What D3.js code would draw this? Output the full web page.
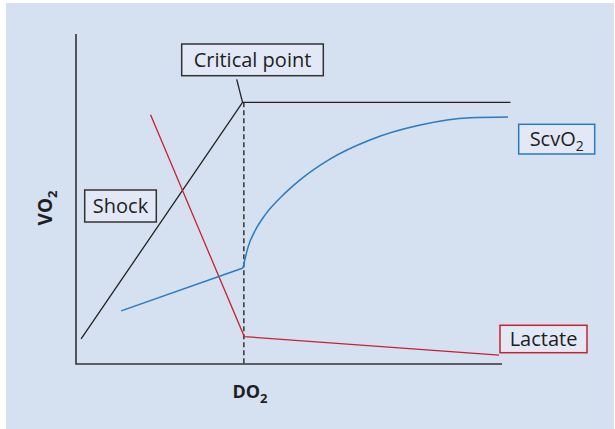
<!DOCTYPE html>
<html>
<head>
<meta charset="utf-8">
<script src="https://cdn.jsdelivr.net/npm/d3@7"></script>
<style>
  html, body { margin: 0; padding: 0; background: #fff; }
  svg { display: block; }
  text { font-family: "Open Sans", "Noto Sans", sans-serif; fill: #1e1e1e; }
</style>
</head>
<body>
<div class="container"></div>
<script>
// VO2 (black), lactate (red) and ScvO2 (blue) against DO2, in arbitrary units 0..100
const vo2Points = [[1.2, 7.6], [39.1, 79.3], [102, 79.3]];
const lactatePoints = [[17.5, 75.5], [39.5, 8.3], [99.3, 2.7]];
const scvo2Linear = [[10.6, 16.1], [39.2, 29.1]];
const scvo2Curve = [[39.2, 29.1], [40.4, 35.5], [42.0, 40.3], [44.4, 45.2], [47.9, 50.3],
                    [52.6, 55.8], [59.6, 62.1], [69.0, 67.9], [80.8, 72.4], [92.5, 74.6],
                    [101.4, 74.85]];
const criticalDO2 = 39.4;

const width = 615;
const height = 429;

const svg = d3.select(".container")
    .append("svg")
    .attr("width", width)
    .attr("height", height);

// light blue panel
svg.append("rect")
    .attr("x", 6).attr("y", 3)
    .attr("width", 608).attr("height", 426)
    .attr("fill", "#d5e0f1");

const x = d3.scaleLinear().domain([0, 100]).range([76, 502]);
const y = d3.scaleLinear().domain([0, 100]).range([364, 34]);

const line = d3.line().x(d => x(d[0])).y(d => y(d[1]));
const smooth = d3.line().x(d => x(d[0])).y(d => y(d[1])).curve(d3.curveMonotoneX);

// axes (no ticks)
svg.append("path")
    .attr("d", `M${x(0)},${y(100)}V${y(0)}H${x(100)}`)
    .attr("fill", "none")
    .attr("stroke", "#333")
    .attr("stroke-width", 1.6);

// dashed critical point line
svg.append("line")
    .attr("x1", x(criticalDO2)).attr("x2", x(criticalDO2))
    .attr("y1", y(79.3)).attr("y2", y(0))
    .attr("stroke", "#333")
    .attr("stroke-width", 1.5)
    .attr("stroke-dasharray", "5,3");

svg.append("path")
    .attr("d", line(vo2Points))
    .attr("fill", "none").attr("stroke", "#222").attr("stroke-width", 1.3);

svg.append("path")
    .attr("d", line(lactatePoints))
    .attr("fill", "none").attr("stroke", "#c8202f").attr("stroke-width", 1.3);

svg.append("path")
    .attr("d", line(scvo2Linear))
    .attr("fill", "none").attr("stroke", "#2a7bbf").attr("stroke-width", 1.5);

svg.append("path")
    .attr("d", smooth(scvo2Curve))
    .attr("fill", "none").attr("stroke", "#2a7bbf").attr("stroke-width", 1.5);

// pointer from the label to the critical point
svg.append("line")
    .attr("x1", 236.7).attr("y1", 79.3)
    .attr("x2", x(vo2Points[1][0])).attr("y2", y(vo2Points[1][1]))
    .attr("stroke", "#222").attr("stroke-width", 1.3);

// boxed labels
function boxLabel(x0, y0, w, h, stroke, txt, sub) {
    const g = svg.append("g");
    g.append("rect")
        .attr("x", x0).attr("y", y0)
        .attr("width", w).attr("height", h)
        .attr("fill", "#e2e8f6")
        .attr("stroke", stroke)
        .attr("stroke-width", 1.5);
    const t = g.append("text")
        .attr("x", x0 + w / 2)
        .attr("y", y0 + h / 2 + 7)
        .attr("text-anchor", "middle")
        .attr("font-size", 20)
        .text(txt);
    if (sub) {
        t.append("tspan")
            .attr("font-size", 14)
            .attr("dy", 5)
            .text(sub);
    }
}

boxLabel(181.7, 44, 141.6, 31.7, "#333", "Critical point");
boxLabel(84.7, 190, 71.6, 32, "#333", "Shock");
boxLabel(518.7, 124.3, 76, 29.7, "#2a7bbf", "ScvO", "2");
boxLabel(500, 325.3, 87, 27.4, "#c8202f", "Lactate");

// axis titles
const xt = svg.append("text")
    .attr("x", 250).attr("y", 398)
    .attr("text-anchor", "middle")
    .attr("font-size", 18)
    .attr("font-weight", "bold")
    .text("DO");
xt.append("tspan").attr("font-size", 13).attr("dy", 5).text("2");

const yt = svg.append("text")
    .attr("transform", "translate(52,208) rotate(-90)")
    .attr("text-anchor", "middle")
    .attr("font-size", 19)
    .attr("font-weight", "bold")
    .text("VO");
yt.append("tspan").attr("font-size", 13).attr("dy", 5).text("2");
</script>
</body>
</html>
